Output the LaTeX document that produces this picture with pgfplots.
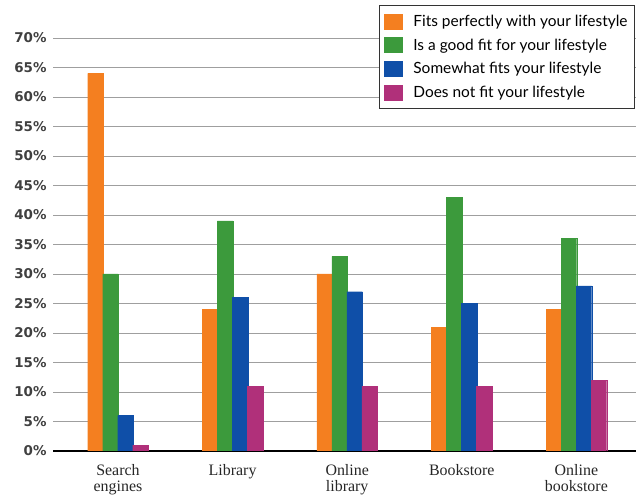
\documentclass[border=0pt]{standalone}
\usepackage{fontspec}
\setmainfont{Liberation Serif}
\newfontfamily\legfont{Lato}
\newfontfamily\tickfont{DejaVu Sans}
\usepackage{pgfplots}
\pgfplotsset{compat=1.18}
\definecolor{cOr}{HTML}{F47F20}
\definecolor{cGr}{HTML}{3C9A3C}
\definecolor{cBl}{HTML}{0F4FA8}
\definecolor{cMa}{HTML}{B0307A}
\begin{document}
\begin{tikzpicture}
\useasboundingbox (-53bp,-46bp) rectangle (583bp,451bp);
\begin{axis}[
  at={(0,0)}, anchor=south west,
  scale only axis, width=583bp, height=413bp,
  xmin=-0.567, xmax=4.52, ymin=0, ymax=70,
  xtick={0,1,2,3,4},
  xticklabels={{Search\\engines},Library,{Online\\library},Bookstore,{Online\\bookstore}},
  xticklabel style={align=center, font=\fontsize{16}{16}\selectfont, text=black!85, yshift=-10bp},
  ytick={0,5,...,70},
  yticklabel={\pgfmathprintnumber{\tick}\%},
  /pgf/number format/assume math mode=true,
  yticklabel style={font=\tickfont\bfseries\fontsize{13.5}{14}\selectfont, text=black!75, xshift=-3bp},
  ymajorgrids, grid style={gray!75, line width=0.8pt},
  axis x line*=bottom, axis y line*=left,
  y axis line style={draw=none},
  x axis line style={black, line width=1.3pt, -},
  major tick length=0pt,
  legend style={at={(rel axis cs:0.998,1.08)}, anchor=north east, draw=black!80, line width=0.8pt,
    font=\legfont\fontsize{15.5}{17}\selectfont, row sep=7bp, column sep=9bp,
    inner xsep=5bp, inner ysep=7.5bp},
  legend cell align=left,
  legend image code/.code={\fill[#1] (0bp,-7.5bp) rectangle (18bp,7.5bp);},
]
\addplot[ybar, bar width=15.5bp, bar shift=-22.5bp, fill=cOr, draw=cOr, line width=0.3bp] coordinates {(0,64) (1,24) (2,30) (3,21) (4,24)};
\addplot[ybar, bar width=15.5bp, bar shift=-7.5bp, fill=cGr, draw=cGr, line width=0.3bp] coordinates {(0,30) (1,39) (2,33) (3,43) (4,36)};
\addplot[ybar, bar width=15.5bp, bar shift=7.5bp, fill=cBl, draw=cBl, line width=0.3bp] coordinates {(0,6) (1,26) (2,27) (3,25) (4,28)};
\addplot[ybar, bar width=15.5bp, bar shift=22.5bp, fill=cMa, draw=cMa, line width=0.3bp] coordinates {(0,1) (1,11) (2,11) (3,11) (4,12)};
\legend{Fits perfectly with your lifestyle, Is a good fit for your lifestyle, Somewhat fits your lifestyle, Does not fit your lifestyle}
\end{axis}
\end{tikzpicture}
\end{document}
